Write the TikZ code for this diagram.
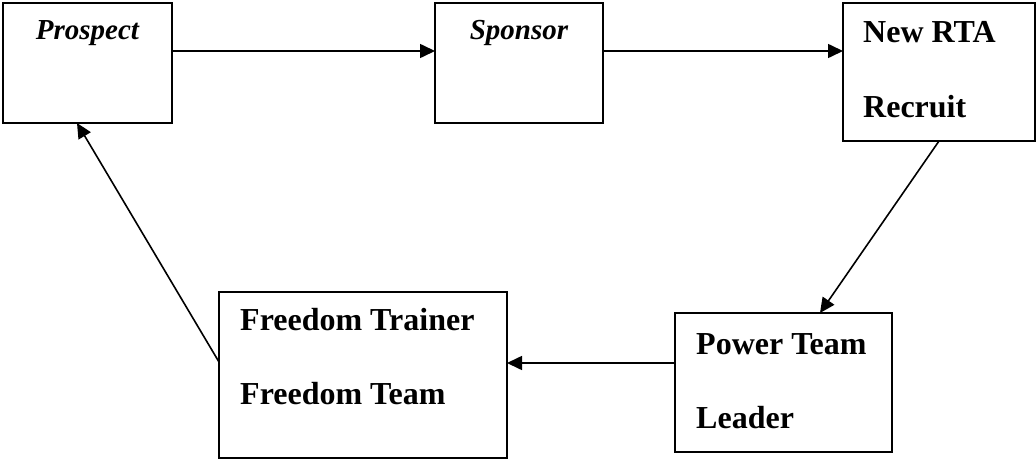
\documentclass[tikz,border=0pt]{standalone}
\usepackage{fontspec}
\setmainfont{Liberation Serif}
\usetikzlibrary{arrows.meta}
\begin{document}
\begin{tikzpicture}[x=1pt, y=-1pt,
  box/.style={rectangle, draw, line width=2pt, anchor=north west, inner sep=0pt, outer sep=0pt},
  bt/.style={anchor=base west, inner sep=0pt, align=left, font=\fontsize{32}{74}\selectfont\bfseries},
  it/.style={anchor=base, inner sep=0pt, font=\fontsize{29}{35}\selectfont\bfseries\itshape},
  arr/.style={-{Triangle[length=15pt, width=14pt]}, line width=1.6pt}]
\useasboundingbox (0,0) rectangle (1036,460);

\node[box, minimum width=169pt, minimum height=120pt] (b1) at (3,3) {};
\node[box, minimum width=168pt, minimum height=120pt] (b2) at (435,3) {};
\node[box, minimum width=192pt, minimum height=138pt] (b3) at (843,3) {};
\node[box, minimum width=217pt, minimum height=139pt] (b4) at (675,313) {};
\node[box, minimum width=288pt, minimum height=166pt] (b5) at (219,292) {};

\node[it] (t1) at ([yshift=-37pt]b1.north) {Prospect};
\node[it] (t2) at ([yshift=-37pt]b2.north) {Sponsor};
\node[bt] (t3) at ([shift={(20pt,-114pt)}]b3.north west) {New RTA\\Recruit};
\node[bt] (t4) at ([shift={(21pt,-115pt)}]b4.north west) {Power Team\\Leader};
\node[bt] (t5) at ([shift={(21pt,-112pt)}]b5.north west) {Freedom Trainer\\Freedom Team};

\draw[arr] ([yshift=12pt]b1.east) -- ([yshift=12pt]b2.west);
\draw[arr] ([yshift=12pt]b2.east) -- ([yshift=12pt]b2.east -| b3.west);
\draw[arr] (b3.south) -- ([xshift=36.5pt]b4.north);
\draw[arr] ([yshift=19.5pt]b4.west) -- ([yshift=19.5pt]b4.west -| b5.east);
\draw[arr] ([yshift=13pt]b5.west) -- ([xshift=-10.5pt]b1.south);

\end{tikzpicture}
\end{document}
